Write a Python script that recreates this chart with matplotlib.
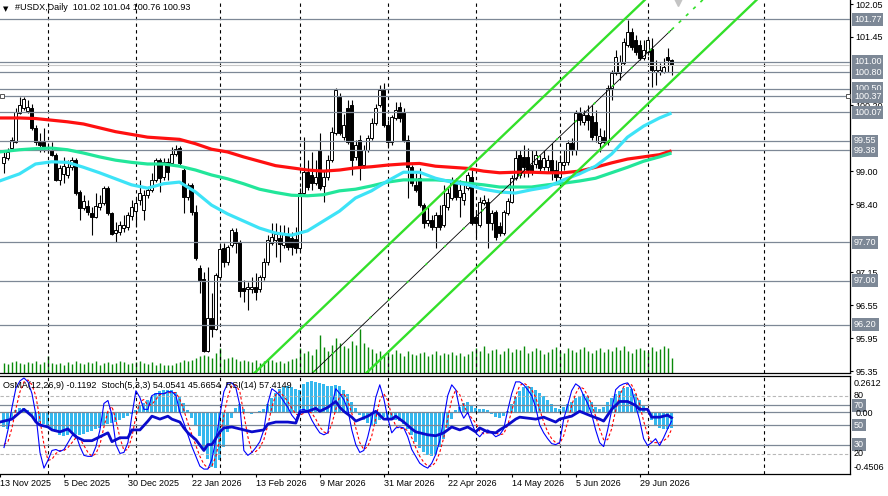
import numpy as np
import matplotlib
matplotlib.use("Agg")
import matplotlib.pyplot as plt
from matplotlib.transforms import blended_transform_factory

plt.rcParams['font.family'] = ['Liberation Sans', 'DejaVu Sans']

# ---- daily bars #USDX (bar 0 = 14 Nov 2025) ----
opens = [99.15, 99.24, 99.42, 99.53, 100.06, 100.15, 100.10, 100.15, 99.79, 99.53,
         99.53, 99.44, 99.39, 99.29, 98.84, 98.95, 98.93, 99.08, 99.20, 98.62,
         98.33, 98.36, 98.24, 98.16, 98.35, 98.42, 98.69, 98.24, 97.87, 97.89,
         97.96, 97.98, 98.18, 98.27, 98.47, 98.29, 98.56, 98.66, 98.84, 99.20,
         98.89, 99.17, 99.15, 99.31, 99.42, 99.02, 98.53, 98.75, 98.25, 97.23,
         97.03, 95.72, 96.32, 96.12, 97.07, 97.60, 97.34, 97.65, 97.89, 97.71,
         96.87, 96.85, 96.85, 96.89, 96.85, 97.07, 97.34, 97.69, 97.74, 97.78,
         97.65, 97.83, 97.78, 97.76, 97.60, 98.60, 98.98, 98.93, 98.78, 99.39,
         98.73, 98.89, 99.20, 99.70, 100.35, 99.62, 100.15, 100.21, 99.26, 99.57,
         99.11, 99.39, 99.60, 99.88, 100.21, 100.48, 99.84, 99.53, 99.97, 100.17,
         100.08, 99.57, 99.07, 98.75, 98.87, 98.38, 98.05, 98.11, 97.98, 98.20,
         98.02, 98.35, 98.51, 98.80, 98.53, 98.47, 98.69, 98.89, 98.16, 98.02,
         98.42, 98.44, 98.05, 98.25, 98.00, 97.87, 98.24, 98.44, 98.87, 99.29,
         99.26, 99.26, 99.11, 99.13, 99.20, 99.08, 99.08, 99.20, 99.02, 98.89,
         99.11, 99.17, 99.51, 99.39, 100.06, 99.90, 100.02, 100.01, 99.90, 99.51,
         99.62, 99.53, 100.52, 100.79, 100.79, 100.97, 101.30, 101.54, 101.39, 101.30,
         101.06, 101.17, 101.23, 100.81, 100.81, 100.81, 101.08, 101.02]
highs = [99.35, 99.42, 99.62, 100.15, 100.35, 100.35, 100.30, 100.23, 99.84, 99.70,
         99.79, 99.48, 99.53, 99.33, 99.11, 99.26, 99.20, 99.26, 99.24, 98.66,
         98.56, 98.47, 98.35, 98.60, 98.56, 98.73, 98.73, 98.25, 98.07, 98.09,
         98.20, 98.25, 98.47, 98.51, 98.84, 98.66, 98.71, 98.97, 99.24, 99.24,
         99.24, 99.24, 99.44, 99.48, 99.46, 99.06, 98.78, 98.78, 98.38, 97.29,
         97.16, 97.25, 96.78, 97.14, 97.65, 97.69, 97.65, 97.96, 97.96, 97.74,
         97.01, 96.98, 97.07, 97.14, 97.10, 97.42, 97.83, 98.05, 98.05, 98.02,
         98.02, 97.98, 97.89, 97.98, 98.69, 99.62, 99.20, 99.35, 99.20, 99.70,
         99.02, 99.29, 99.80, 100.52, 100.43, 100.04, 100.30, 100.30, 99.57, 99.66,
         99.48, 99.66, 99.97, 100.23, 100.57, 100.61, 99.93, 100.02, 100.26, 100.26,
         100.15, 99.66, 99.11, 98.97, 99.06, 98.42, 98.35, 98.20, 98.25, 98.38,
         98.75, 98.69, 98.89, 98.87, 98.84, 98.75, 98.98, 99.02, 98.29, 98.53,
         98.56, 98.51, 98.29, 98.29, 98.07, 98.29, 98.51, 98.93, 99.39, 99.39,
         99.48, 99.42, 99.39, 99.39, 99.29, 99.39, 99.29, 99.51, 99.20, 99.29,
         99.39, 99.57, 99.60, 100.12, 100.17, 100.12, 100.21, 100.21, 100.12, 99.79,
         99.75, 100.57, 100.85, 101.21, 101.12, 101.43, 101.76, 101.61, 101.48, 101.39,
         101.39, 101.43, 101.43, 101.03, 100.97, 101.06, 101.25, 101.04]
lows = [98.97, 99.20, 99.39, 99.51, 100.04, 100.12, 100.06, 99.75, 99.48, 99.35,
        99.35, 99.33, 99.28, 98.82, 98.75, 98.78, 98.87, 99.02, 98.56, 98.11,
        98.29, 98.20, 97.83, 98.14, 98.29, 98.38, 98.20, 97.83, 97.71, 97.83,
        97.89, 97.93, 98.11, 97.98, 98.38, 98.11, 98.51, 98.62, 98.80, 98.62,
        98.84, 98.84, 99.11, 99.28, 99.11, 98.24, 98.47, 98.20, 97.38, 96.78,
        95.70, 95.70, 95.97, 96.10, 97.01, 97.25, 97.29, 97.62, 97.51, 96.70,
        96.61, 96.47, 96.78, 96.65, 96.79, 97.01, 97.29, 97.65, 97.43, 97.34,
        97.60, 97.56, 97.47, 97.51, 97.56, 98.56, 98.66, 98.66, 98.75, 98.66,
        98.44, 98.84, 99.17, 99.66, 99.66, 99.57, 99.50, 98.93, 99.20, 98.84,
        99.06, 99.35, 99.57, 99.84, 100.17, 99.80, 99.42, 99.48, 99.93, 99.90,
        99.53, 98.51, 98.73, 98.62, 98.35, 97.96, 98.00, 97.93, 97.60, 97.93,
        97.98, 98.29, 98.47, 98.47, 98.16, 98.38, 98.66, 98.02, 97.78, 97.98,
        98.38, 97.60, 97.93, 97.74, 97.82, 97.83, 98.20, 98.42, 98.84, 98.87,
        98.89, 98.89, 98.93, 99.06, 98.98, 99.02, 98.98, 98.84, 98.78, 98.84,
        99.02, 99.11, 99.29, 99.29, 99.84, 99.84, 99.75, 99.57, 99.53, 99.35,
        99.48, 99.48, 100.30, 100.75, 100.66, 100.94, 101.26, 101.21, 101.12, 101.03,
        101.03, 101.12, 100.54, 100.57, 100.75, 100.79, 100.81, 100.76]
closes = [99.26, 99.35, 99.57, 100.08, 100.21, 100.32, 100.17, 99.79, 99.53, 99.48,
          99.44, 99.42, 99.29, 98.84, 99.06, 99.09, 99.08, 99.19, 98.60, 98.33,
          98.45, 98.25, 98.16, 98.36, 98.42, 98.69, 98.24, 97.85, 97.93, 98.02,
          98.02, 98.20, 98.35, 98.42, 98.60, 98.56, 98.66, 98.84, 99.20, 98.87,
          99.17, 98.98, 99.31, 99.40, 99.15, 98.53, 98.75, 98.25, 97.42, 97.01,
          95.72, 96.32, 96.12, 97.10, 97.58, 97.34, 97.62, 97.93, 97.69, 96.81,
          96.81, 96.89, 96.89, 96.79, 97.07, 97.34, 97.74, 97.80, 97.85, 97.67,
          97.85, 97.62, 97.62, 97.60, 98.60, 98.98, 98.71, 98.78, 98.89, 98.69,
          98.89, 99.20, 99.71, 100.48, 99.70, 99.84, 99.53, 99.20, 99.48, 99.07,
          99.39, 99.60, 99.88, 100.15, 100.48, 99.84, 99.53, 99.99, 100.12, 99.97,
          99.57, 99.07, 98.78, 98.66, 98.38, 98.05, 98.11, 97.98, 98.20, 97.98,
          98.38, 98.60, 98.80, 98.53, 98.66, 98.60, 98.93, 98.05, 98.05, 98.44,
          98.47, 98.05, 98.24, 97.80, 97.87, 98.25, 98.45, 98.87, 99.24, 98.93,
          99.08, 99.02, 98.98, 99.29, 99.06, 99.24, 99.20, 98.97, 98.89, 99.17,
          99.17, 99.51, 99.39, 100.06, 99.93, 100.02, 99.93, 99.62, 99.66, 99.64,
          99.53, 100.52, 100.79, 101.08, 100.99, 101.36, 101.54, 101.27, 101.17, 101.06,
          101.21, 101.39, 100.85, 100.85, 100.85, 100.90, 101.03, 100.93]
# tick volume, thousands
volumes = [10, 9, 11, 12, 10, 9, 11, 10, 12, 9, 11, 17,
           10, 9, 10, 8, 11, 9, 12, 10, 9, 11, 10, 12, 8, 10, 11, 9, 10, 12, 11, 9, 10, 11, 12, 10, 9, 11,
           8, 10, 8, 8, 8, 10, 11, 13, 12, 13, 15, 17, 18, 17, 15, 20,
           25, 14, 15, 16, 14, 12, 13,
           12, 11, 13, 10, 12, 14, 13, 11, 12, 10, 12, 14, 15,
           25, 20, 22, 18, 24, 38, 26, 22, 28, 35, 30, 27, 25, 32, 28, 44, 30, 26, 24,
           20, 22, 18, 21, 19, 23, 20, 17, 22, 19, 18, 20, 21, 17, 19, 22, 18, 20, 19, 21, 18, 20, 17, 19, 22,
           25, 22, 27, 20, 23, 24, 19, 22, 25, 21, 24, 23, 27, 20, 22, 25, 23, 19, 21, 24,
           26, 22, 20, 25, 23, 21, 24, 26, 22, 20, 23, 25, 21, 24, 22, 26, 23, 27, 22, 20,
           24, 25, 23, 21, 26, 22, 24, 27, 25, 15]

# moving averages, read every 4 bars (first point at the left edge)
ma_bars = [-1] + list(range(4, 165, 4)) + [167]
ma_red = [99.97, 99.97, 99.96, 99.93, 99.90, 99.86, 99.79, 99.72, 99.67, 99.62,
          99.60, 99.58, 99.50, 99.40, 99.35, 99.26, 99.18, 99.10, 99.06, 99.02,
          99.00, 99.02, 99.06, 99.08, 99.11, 99.13, 99.14, 99.09, 99.07, 99.05,
          99.00, 98.97, 98.98, 98.98, 98.97, 98.97, 99.00, 99.07, 99.15, 99.22,
          99.26, 99.30, 99.37]
ma_green = [99.35, 99.39, 99.41, 99.42, 99.39, 99.33, 99.26, 99.20, 99.16, 99.13,
            99.13, 99.09, 99.02, 98.93, 98.86, 98.77, 98.67, 98.61, 98.56, 98.55,
            98.57, 98.64, 98.67, 98.73, 98.80, 98.84, 98.84, 98.84, 98.82, 98.78,
            98.75, 98.71, 98.71, 98.71, 98.75, 98.78, 98.82, 98.87, 98.97, 99.07,
            99.18, 99.26, 99.33]
ma_cyan = [98.82, 98.95, 99.13, 99.17, 99.16, 99.07, 98.97, 98.86, 98.75, 98.69,
           98.77, 98.80, 98.62, 98.38, 98.22, 98.09, 97.96, 97.87, 97.83, 97.91,
           98.09, 98.27, 98.51, 98.64, 98.82, 98.98, 98.98, 98.87, 98.80, 98.75,
           98.67, 98.62, 98.60, 98.66, 98.71, 98.84, 98.95, 99.09, 99.31, 99.62,
           99.82, 99.97, 100.06]

# price channel (middle line anchors) and offsets
chan_bars = [77, 167]
chan_mid = [95.30, 101.58]
chan_up = 1.01
chan_dn = 0.94

levels = [101.77, 101.00, 100.80, 100.50, 100.37, 100.07, 99.55, 99.38, 97.70, 97.00, 96.20]
bid = 100.93
price_ticks = [102.05, 101.45, 100.20, 99.00, 98.40, 97.15, 96.55, 95.95, 95.35]
month_bars = [11, 33, 54, 74, 96, 118, 139, 161, 190]
date_bars = [-1, 15, 31, 47, 63, 79, 95, 111, 127, 143, 159]
date_labels = ['13 Nov 2025', '5 Dec 2025', '30 Dec 2025', '22 Jan 2026', '13 Feb 2026',
               '9 Mar 2026', '31 Mar 2026', '22 Apr 2026', '14 May 2026', '5 Jun 2026', '29 Jun 2026']

# ---- indicator window ----
osma = [-0.109, -0.123, -0.058, 0.015, 0.029, 0.029, 0.015, -0.022, -0.058, -0.073,
        -0.087, -0.102, -0.123, -0.145, -0.167, -0.174, -0.167, -0.152, -0.160, -0.167,
        -0.160, -0.145, -0.138, -0.123, -0.116, -0.102, -0.087, -0.080, -0.073, -0.058,
        -0.044, -0.029, -0.015, 0.015, 0.044, 0.065, 0.087, 0.109, 0.138, 0.152,
        0.160, 0.160, 0.160, 0.145, 0.109, 0.065, 0.015, -0.044, -0.102, -0.174,
        -0.261, -0.341, -0.399, -0.407, -0.348, -0.254, -0.145, -0.044, 0.029, 0.058,
        0.022, -0.007, -0.015, -0.007, 0.007, 0.022, 0.058, 0.102, 0.138, 0.167,
        0.182, 0.189, 0.182, 0.167, 0.160, 0.203, 0.218, 0.225, 0.218, 0.211,
        0.203, 0.189, 0.189, 0.196, 0.189, 0.160, 0.131, 0.073, 0.029, -0.022,
        -0.058, -0.080, -0.094, -0.087, -0.058, -0.036, -0.044, -0.058, -0.058, -0.065,
        -0.087, -0.123, -0.167, -0.218, -0.261, -0.290, -0.312, -0.319, -0.305, -0.254,
        -0.196, -0.116, -0.051, 0.015, 0.036, 0.065, 0.073, 0.044, 0.029, 0.022,
        0.022, 0.015, -0.015, -0.036, -0.044, -0.029, 0.007, 0.058, 0.109, 0.152,
        0.182, 0.189, 0.182, 0.160, 0.138, 0.116, 0.087, 0.058, 0.029, 0.022,
        0.036, 0.058, 0.073, 0.102, 0.116, 0.131, 0.116, 0.073, 0.036, 0.022,
        0.036, 0.073, 0.102, 0.131, 0.152, 0.174, 0.182, 0.167, 0.131, 0.087,
        0.044, -0.007, -0.058, -0.094, -0.116, -0.123, -0.123, -0.1192]
stoch_main = [27, 45, 68, 88, 95, 98, 94, 82, 60, 22,
              6, 14, 24, 25, 23, 25, 32, 39, 40, 28,
              19, 18, 18, 28, 45, 72, 75, 60, 30, 21,
              22, 32, 60, 85, 78, 66, 66, 80, 82, 82,
              82, 84, 84, 80, 63, 52, 40, 28, 18, 8,
              5, 5, 15, 35, 60, 84, 93, 93, 88, 70,
              24, 19, 22, 27, 33, 45, 72, 87, 84, 80,
              74, 68, 60, 55, 65, 66, 64, 55, 48, 42,
              40, 42, 70, 87, 82, 76, 66, 45, 30, 22,
              24, 38, 55, 78, 91, 77, 57, 42, 47, 48,
              47, 38, 25, 18, 11, 8, 6, 11, 20, 34,
              56, 80, 91, 86, 66, 57, 63, 52, 42, 38,
              43, 45, 42, 38, 40, 46, 65, 82, 94, 94,
              91, 86, 80, 68, 50, 42, 36, 31, 30, 32,
              56, 70, 85, 92, 89, 80, 72, 61, 45, 32,
              28, 45, 65, 86, 90, 92, 93, 87, 70, 55,
              36, 29, 32, 36, 29, 37, 46, 54.05]
stoch_sig = [30, 33, 47, 67, 84, 94, 96, 91, 79, 55,
             30, 14, 15, 21, 24, 24, 27, 32, 37, 36,
             29, 22, 18, 21, 30, 48, 64, 69, 55, 37,
             24, 25, 38, 59, 74, 76, 70, 71, 76, 81,
             82, 83, 83, 83, 76, 65, 52, 40, 29, 18,
             10, 6, 8, 18, 37, 60, 79, 90, 91, 84,
             61, 38, 22, 23, 27, 35, 50, 68, 81, 84,
             79, 74, 67, 61, 60, 62, 65, 62, 56, 48,
             43, 41, 51, 66, 80, 82, 75, 62, 47, 32,
             25, 28, 39, 57, 75, 82, 75, 59, 49, 46,
             47, 44, 37, 27, 18, 12, 8, 8, 12, 22,
             37, 57, 76, 86, 81, 70, 62, 57, 52, 44,
             41, 42, 43, 42, 40, 41, 50, 64, 80, 90,
             93, 90, 86, 78, 66, 53, 43, 36, 32, 31,
             39, 53, 70, 82, 89, 87, 80, 71, 59, 46,
             35, 35, 46, 65, 80, 89, 92, 91, 83, 71,
             54, 40, 32, 32, 32, 34, 37, 45.67]
rsi_bars = [-1, 2, 4, 5, 7, 8, 9, 11, 12, 14, 16, 18, 20, 22, 24, 26, 27, 29, 31, 32,
            34, 36, 37, 39, 41, 42, 44, 45, 46, 48, 50, 51, 52, 54, 55, 57, 60, 62, 65, 66,
            68, 71, 73, 74, 76, 78, 79, 81, 83, 84, 85, 87, 88, 91, 93, 95, 97, 98, 100, 102,
            103, 106, 108, 110, 112, 114, 116, 118, 119, 121, 123, 124, 126, 128, 129, 133, 135, 138, 139, 142,
            144, 147, 149, 150, 152, 154, 156, 158, 159, 161, 162, 164, 166, 167]
rsi_vals = [53, 56, 63, 66, 59, 53, 50, 48, 45, 43, 46, 38, 34, 34, 38, 42, 33, 37, 37, 45,
            45, 54, 59, 56, 59, 56, 53, 47, 42, 35, 24, 30, 30, 43, 47, 48, 45, 43, 45, 51,
            53, 53, 52, 63, 64, 67, 64, 68, 74, 68, 64, 58, 54, 59, 64, 56, 56, 59, 53, 46,
            43, 40, 39, 42, 48, 45, 48, 43, 47, 43, 42, 45, 50, 56, 58, 56, 58, 53, 56, 59,
            64, 59, 56, 54, 66, 74, 74, 70, 66, 66, 58, 58, 60, 57.41]

W, H = 888, 496
PX = 0.01825          # price per pixel on the main window
TOP = 102.123
LVL_C = '#7d8896'

fig = plt.figure(figsize=(W / 100, H / 100), dpi=100)
fig.patch.set_facecolor('white')

ax = fig.add_axes([0, 1 - 373 / H, 850 / W, 373 / H])
xlim = (-0.875, (850 - 3.5) / 4)
ylo = TOP - 373 * PX
ax.set_xlim(*xlim)
ax.set_ylim(ylo, TOP)

x = np.arange(len(closes))
o = np.array(opens); c = np.array(closes)
hi = np.array(highs); lo = np.array(lows)

# volumes at the bottom
ax.vlines(x, ylo, ylo + np.array(volumes) * PX, color='#0a8a0a', lw=1.0, zorder=1)

# month separators
for b in month_bars:
    ax.axvline(b, color='black', lw=0.8, ls=(0, (3, 3)), zorder=1.5)

# candles
ax.vlines(x, lo, hi, color='black', lw=0.8, zorder=3)
bull = c >= o
ax.bar(x, np.abs(c - o) + 0.004, bottom=np.minimum(o, c), width=0.62,
       color=np.where(bull, 'white', 'black'), edgecolor='black', lw=0.7, zorder=4)

# level lines
ax.axhline(bid, color='#c8c8c8', lw=0.8, zorder=4.5)
for lv in levels:
    ax.axhline(lv, color=LVL_C, lw=0.9, zorder=5)
ax.plot([xlim[0] + 0.6, 211.0], [100.37, 100.37], ls='none', marker='s', ms=3.2,
        mfc='white', mec='#555555', mew=0.7, zorder=6, clip_on=False)

# moving averages
ax.plot(ma_bars, ma_red, color='#ff1010', lw=2.3, zorder=6, solid_capstyle='butt')
ax.plot(ma_bars, ma_green, color='#22e69a', lw=2.3, zorder=6, solid_capstyle='butt')
ax.plot(ma_bars, ma_cyan, color='#3de3f7', lw=2.3, zorder=6, solid_capstyle='butt')

# channel
slope = (chan_mid[1] - chan_mid[0]) / (chan_bars[1] - chan_bars[0])
xb = np.array([40.0, 215.0])
mid = chan_mid[0] + slope * (xb - chan_bars[0])
ax.plot(xb, mid + chan_up, color='#33e02a', lw=1.7, zorder=7)
ax.plot(xb, mid - chan_dn, color='#33e02a', lw=1.7, zorder=7)
xm = np.array([40.0, chan_bars[1]])
ax.plot(xm, chan_mid[0] + slope * (xm - chan_bars[0]), color='black', lw=0.6, zorder=7)
ax.plot(xm, chan_mid[0] + slope * (xm - chan_bars[0]), color='#33e02a', lw=1.2,
        ls=(0, (1.5, 14)), zorder=7.1)
xe = np.array([chan_bars[1], 185.0])
ax.plot(xe, chan_mid[0] + slope * (xe - chan_bars[0]), color='#33e02a', lw=1.2,
        ls=(0, (2, 4)), zorder=7)
ax.plot([168.6], [102.10], marker='v', ms=7, color='#c4c4c4', zorder=7)

# axes look
for s in ['left', 'top']:
    ax.spines[s].set_visible(False)
for s in ['right', 'bottom']:
    ax.spines[s].set_color('black'); ax.spines[s].set_linewidth(0.9)
ax.set_xticks([])
ax.yaxis.tick_right()
ax.set_yticks(price_ticks)
ax.set_yticklabels(['%.2f' % t for t in price_ticks])
ax.tick_params(axis='y', length=2.5, width=0.8, pad=1.5, labelsize=6.5, colors='black')

tr = blended_transform_factory(ax.transAxes, ax.transData)
for lv in levels:
    ax.text(854 / 850, lv, '%.2f' % lv, transform=tr, ha='left', va='center', fontsize=6.5,
            color='white', zorder=10, clip_on=False,
            bbox=dict(boxstyle='square,pad=0.22', fc=LVL_C, ec='none'))

# ---- indicator window ----
rect = [0, 1 - 474 / H, 850 / W, 98 / H]
axo = fig.add_axes(rect)
axo.set_xlim(*xlim)
axo.set_ylim(-0.4506, 0.2612)
axo.bar(x, osma, width=0.72, color='#35b8ee', lw=0, zorder=1)
axo.axhline(0, color=LVL_C, lw=0.9, zorder=2)
axo.set_xticks([]); axo.set_yticks([])
for s in axo.spines.values():
    s.set_visible(False)

axs = fig.add_axes(rect)
axs.patch.set_alpha(0)
axs.set_xlim(*xlim)
axs.set_ylim(0, 100)
for b in month_bars:
    axs.axvline(b, color='black', lw=0.8, ls=(0, (3, 3)), zorder=1)
for lv in [80, 20]:
    axs.axhline(lv, color='#b8b8b8', lw=0.8, ls=(0, (3, 2)), zorder=2)
for lv in [70, 50, 30]:
    axs.axhline(lv, color=LVL_C, lw=0.9, zorder=2)
axs.plot(x, stoch_sig, color='#ff0000', lw=0.8, ls=(0, (2.5, 2)), zorder=3)
axs.plot(x, stoch_main, color='#0000ff', lw=0.8, zorder=4)
axs.plot(rsi_bars, rsi_vals, color='#0a0acc', lw=2.0, zorder=5)
axs.spines['left'].set_visible(False)
for s in ['right', 'bottom', 'top']:
    axs.spines[s].set_color('black'); axs.spines[s].set_linewidth(0.9)
axs.set_yticks([])
axs.set_xticks(date_bars)
axs.set_xticklabels(date_labels, ha='left')
axs.tick_params(axis='x', length=2.5, width=0.8, pad=1.0, labelsize=6.5)

tr2 = blended_transform_factory(axs.transAxes, axs.transData)
for lv in [70, 50, 30]:
    axs.text(854 / 850, lv, str(lv), transform=tr2, ha='left', va='center', fontsize=6.5,
             color='white', zorder=10, clip_on=False,
             bbox=dict(boxstyle='square,pad=0.22', fc=LVL_C, ec='none'))


def ftext(px, py, s, **kw):
    fig.text(px / W, 1 - py / H, s, va='center', ha='left', fontsize=6.5, color='black', **kw)


ftext(854, 384, '0.2612')
ftext(854, 396, '80')
ftext(856, 413, '0.00')
ftext(854, 454, '20')
ftext(854, 467, '-0.4506')

# headers
fig.text(3 / W, 1 - 9 / H, '\u25bc', va='center', ha='left', fontsize=5, family='DejaVu Sans')
ftext(15, 8, '#USDX,Daily  101.02 101.04 100.76 100.93')
ftext(3, 385, 'OsMA(12,26,9) -0.1192  Stoch(5,3,3) 54.0541 45.6654  RSI(14) 57.4149')

fig.savefig('out.png', dpi=100, facecolor='white')
